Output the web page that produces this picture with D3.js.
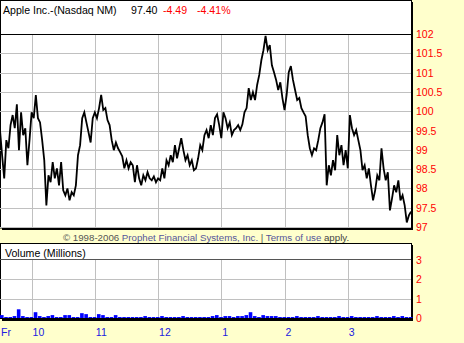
<!DOCTYPE html>
<html>
<head>
<meta charset="utf-8">
<script src="https://cdn.jsdelivr.net/npm/d3@7"></script>
<style>
  body { margin: 0; background: #ffffcc; }
  svg { display: block; font-family: "Liberation Sans", Arial, sans-serif; }
</style>
</head>
<body>
<div id="chart"></div>
<script>
// price every 2 minutes from 9:30
var prices = [
  99.51, 98.86, 98.26, 99.25, 99.04, 99.64, 99.90, 99.56, 100.18, 98.99,
  99.97, 99.38, 99.56, 98.60, 99.25, 99.97, 99.82, 100.42, 99.82, 99.71,
  99.25, 98.73, 97.56, 98.34, 98.16, 98.68, 98.26, 98.52, 98.08, 98.68,
  97.95, 97.82, 98.00, 97.69, 97.90, 97.82, 98.08, 98.86, 99.12, 99.82,
  99.97, 99.71, 99.45, 99.19, 99.82, 99.97, 99.82, 100.08, 100.42, 100.03,
  100.08, 99.77, 99.64, 99.25, 98.99, 99.19, 99.04, 98.94, 98.83, 98.52,
  98.73, 98.52, 98.68, 98.60, 98.16, 98.60, 98.26, 98.08, 98.34, 98.21,
  98.42, 98.26, 98.21, 98.31, 98.16, 98.26, 98.21, 98.52, 98.26, 98.73,
  98.60, 98.86, 98.68, 99.12, 98.78, 99.04, 99.30, 98.99, 98.73, 98.86,
  98.60, 98.73, 98.47, 98.52, 98.78, 99.12, 98.99, 99.38, 99.51, 99.30,
  99.64, 99.38, 99.82, 99.92, 99.64, 99.30, 99.97, 99.82, 99.56, 99.71,
  99.38, 99.51, 99.56, 99.64, 99.51, 99.66, 99.97, 100.08, 100.60, 100.29,
  100.49, 100.29, 100.68, 100.94, 101.32, 101.58, 101.95, 101.58, 101.71, 101.19,
  101.01, 100.81, 100.55, 100.75, 100.34, 100.03, 100.42, 101.01, 101.17, 100.81,
  100.55, 100.29, 100.34, 100.08, 99.97, 99.87, 99.38, 99.04, 98.86, 99.04,
  98.99, 99.25, 99.56, 99.71, 99.92, 98.08, 98.60, 98.34, 98.73, 98.47,
  99.38, 98.86, 99.12, 98.60, 98.99, 98.52, 99.90, 99.56, 99.38, 99.51,
  99.25, 98.99, 98.47, 98.60, 98.26, 98.52, 98.08, 97.69, 97.95, 98.34,
  98.21, 99.04, 98.52, 98.21, 98.42, 97.43, 97.74, 98.08, 97.90, 98.21,
  97.69, 97.82, 97.56, 97.12, 97.30, 97.40
];

// volume (millions) every 4 minutes
var volumes = [
  0.15, 0.05, 0.05, 0.1, 0.45, 0.1, 0.05, 0.05, 0.3, 0.1,
  0.05, 0.1, 0.15, 0.05, 0.05, 0.15, 0.15, 0.05, 0.05, 0.25,
  0.2, 0.05, 0.05, 0.2, 0.15, 0.05, 0.05, 0.15, 0.05, 0.05,
  0.05, 0.05, 0.05, 0.05, 0.1, 0.05, 0.05, 0.05, 0.1, 0.05,
  0.05, 0.05, 0.05, 0.1, 0.05, 0.05, 0.05, 0.05, 0.05, 0.05,
  0.1, 0.15, 0.05, 0.1, 0.1, 0.05, 0.1, 0.1, 0.15, 0.3,
  0.1, 0.05, 0.15, 0.1, 0.1, 0.1, 0.05, 0.05, 0.05, 0.05,
  0.1, 0.05, 0.05, 0.05, 0.05, 0.1, 0.05, 0.05, 0.05, 0.05,
  0.1, 0.05, 0.05, 0.1, 0.05, 0.05, 0.05, 0.05, 0.05, 0.1,
  0.05, 0.05, 0.05, 0.1, 0.05, 0.1, 0.05, 0.05
];

var hourLabels = ["Fr", "10", "11", "12", "1", "2", "3"];
var hourMinutes = [0, 30, 90, 150, 210, 270, 330];
var priceTicks = [97, 97.5, 98, 98.5, 99, 99.5, 100, 100.5, 101, 101.5, 102];
var volTicks = [0, 1, 2, 3];

var width = 464, height = 343;
var boxW = 411;

var svg = d3.select("#chart").append("svg")
  .attr("width", width)
  .attr("height", height);

var x = d3.scaleLinear().domain([0, 390]).range([0, 411]);
var y = d3.scaleLinear().domain([97, 102]).range([227, 34]);
var yv = d3.scaleLinear().domain([0, 3]).range([318, 260]);

// price panel box with shadow
svg.append("rect").attr("x", 2).attr("y", 2).attr("width", boxW).attr("height", 228).attr("fill", "#000");
svg.append("rect").attr("x", 0.5).attr("y", 0.5).attr("width", boxW).attr("height", 227.5)
  .attr("fill", "#fff").attr("stroke", "#000");

// header
var head = svg.append("text").attr("x", 3).attr("y", 14).attr("font-size", "10.6px");
head.append("tspan").text("Apple Inc.-(Nasdaq NM)");
head.append("tspan").attr("x", 131).text("97.40");
head.append("tspan").attr("x", 163).attr("fill", "#ff0000").text("-4.49");
head.append("tspan").attr("x", 197).attr("fill", "#ff0000").text("-4.41%");

// grid
svg.append("g").selectAll("line").data(priceTicks.slice(0, -1)).enter().append("line")
  .attr("x1", 0).attr("x2", boxW)
  .attr("y1", function(d) { return Math.round(y(d)) + 0.5; })
  .attr("y2", function(d) { return Math.round(y(d)) + 0.5; })
  .attr("stroke", "#c0c0c0");
svg.append("g").selectAll("line").data(hourMinutes.slice(1)).enter().append("line")
  .attr("x1", function(d) { return Math.round(x(d)) + 0.5; })
  .attr("x2", function(d) { return Math.round(x(d)) + 0.5; })
  .attr("y1", 34).attr("y2", 228)
  .attr("stroke", "#c0c0c0");
svg.append("line").attr("x1", 0).attr("x2", boxW).attr("y1", 34.5).attr("y2", 34.5).attr("stroke", "#000");

// price line
svg.append("clipPath").attr("id", "pclip").append("rect")
  .attr("x", 0).attr("y", 34).attr("width", boxW).attr("height", 194);
var line = d3.line()
  .x(function(d, i) { return x(i * 2); })
  .y(function(d) { return y(d); });
svg.append("path").datum(prices)
  .attr("clip-path", "url(#pclip)")
  .attr("d", line)
  .attr("fill", "none")
  .attr("stroke", "#000")
  .attr("stroke-width", 1.8);

// price labels
svg.append("g").selectAll("text").data(priceTicks).enter().append("text")
  .attr("x", 416)
  .attr("y", function(d) { return y(d) + 4; })
  .attr("font-size", "10.5px")
  .attr("fill", "#ff0000")
  .text(function(d) { return d; });

// copyright
var copy = svg.append("text").attr("x", 63).attr("y", 240.5).attr("font-size", "9.7px");
copy.append("tspan").attr("fill", "#555555").text("© 1998-2006 ");
copy.append("tspan").attr("fill", "#55559a").text("Prophet Financial Systems, Inc.");
copy.append("tspan").attr("fill", "#555555").text(" | ");
copy.append("tspan").attr("fill", "#55559a").text("Terms of use");
copy.append("tspan").attr("fill", "#444444").text(" apply.");

// volume panel
svg.append("rect").attr("x", 2).attr("y", 245).attr("width", boxW).attr("height", 76).attr("fill", "#000");
svg.append("rect").attr("x", 0.5).attr("y", 243.5).attr("width", boxW).attr("height", 75)
  .attr("fill", "#fff").attr("stroke", "#000");
svg.append("text").attr("x", 5).attr("y", 257).attr("font-size", "10.6px").text("Volume (Millions)");

svg.append("g").selectAll("line").data([1, 2]).enter().append("line")
  .attr("x1", 0).attr("x2", boxW)
  .attr("y1", function(d) { return Math.round(yv(d)) + 0.5; })
  .attr("y2", function(d) { return Math.round(yv(d)) + 0.5; })
  .attr("stroke", "#c0c0c0");
svg.append("g").selectAll("line").data(hourMinutes.slice(1)).enter().append("line")
  .attr("x1", function(d) { return Math.round(x(d)) + 0.5; })
  .attr("x2", function(d) { return Math.round(x(d)) + 0.5; })
  .attr("y1", 260).attr("y2", 318)
  .attr("stroke", "#c0c0c0");
svg.append("line").attr("x1", 0).attr("x2", boxW).attr("y1", 259.5).attr("y2", 259.5).attr("stroke", "#555");

var barW = x(4) - x(0);
svg.append("g").selectAll("rect").data(volumes).enter().append("rect")
  .attr("x", function(d, i) { return x(i * 4); })
  .attr("y", function(d) { return yv(d); })
  .attr("width", barW - 0.6)
  .attr("height", function(d) { return yv(0) - yv(d); })
  .attr("fill", "#0000ff");

svg.append("g").selectAll("text").data(volTicks).enter().append("text")
  .attr("x", 416)
  .attr("y", function(d) { return yv(d) + 4; })
  .attr("font-size", "10.5px")
  .attr("fill", "#ff0000")
  .text(function(d) { return d; });

// time labels
svg.append("g").selectAll("text").data(hourLabels).enter().append("text")
  .attr("x", function(d, i) { return x(hourMinutes[i]) + 1; })
  .attr("y", 336)
  .attr("font-size", "10.5px")
  .attr("fill", "#2020e0")
  .text(function(d) { return d; });
</script>
</body>
</html>
